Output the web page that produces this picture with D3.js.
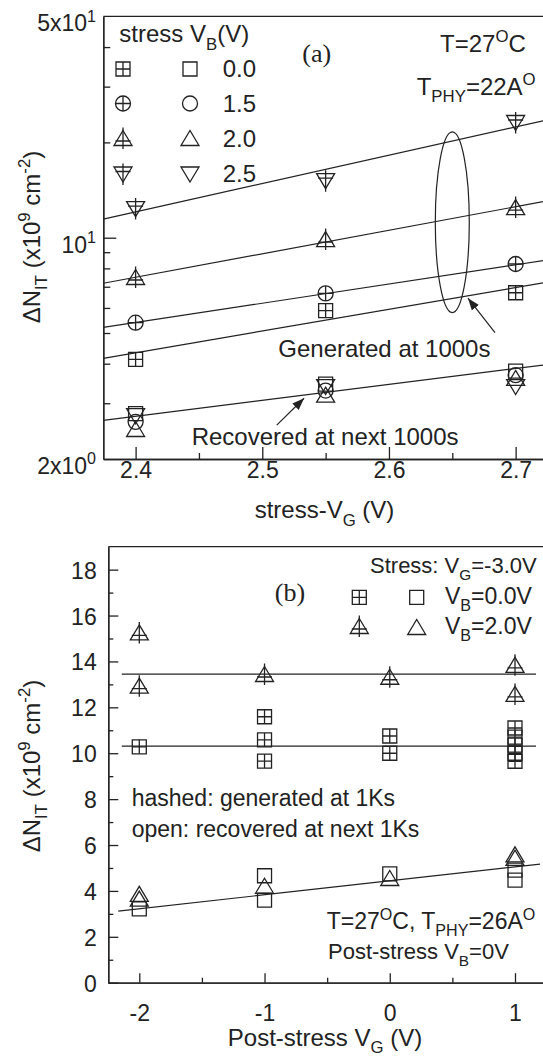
<!DOCTYPE html>
<html>
<head>
<meta charset="utf-8">
<script src="https://cdn.jsdelivr.net/npm/d3@7"></script>
<style>
  body { margin: 0; background: #fff; }
  svg text { font-family: "Liberation Sans", Arial, sans-serif; fill: #222; white-space: pre; }
  svg text.serif { font-family: "Liberation Serif", "Times New Roman", serif; }
</style>
</head>
<body>
<svg id="chart" width="543" height="1061"></svg>
<script>
// ---- panel (a): dN_IT (1e9 cm^-2) vs stress V_G, log axis ----
var stressVG = [2.4, 2.55, 2.7];
var genVB00 = [4.13, 5.88, 6.70];
var genVB15 = [5.39, 6.67, 8.26];
var genVB20 = [7.46, 9.83, 12.4];
var genVB25 = [12.4, 15.2, 23.2];
var recVB00 = [2.78, 3.45, 3.79];
var recVB15 = [2.62, 3.29, 3.68];
var recVB20 = [2.47, 3.17, 3.58];
var recVB25 = [2.75, 3.40, 3.40];
// fitted lines, end points
var fitXA = [2.3745, 2.7216];
var fitVB00 = [4.16, 7.20];
var fitVB15 = [5.21, 8.46];
var fitVB20 = [7.18, 13.0];
var fitVB25 = [11.45, 23.4];
var fitRecA = [2.65, 3.96];
var xTicksA = [2.4, 2.5, 2.6, 2.7];
var xMinorA = [2.45, 2.55, 2.65];
var yMinorA = [3, 4, 5, 6, 7, 8, 9, 20, 30, 40];
var yLabelValsA = [50, 10, 2];
var yLabelsA = ["5x10^{1}", "10^{1}", "2x10^{0}"];
var legendVB = ["0.0", "1.5", "2.0", "2.5"];

// ---- panel (b): dN_IT vs post-stress V_G ----
var postVG = [-2, -1, 0, 1];
var genB00 = [[10.28], [11.59, 10.58, 9.66], [10.75, 10.0], [11.1, 10.7, 10.35, 10.0, 9.65]];
var genB20 = [[15.22, 12.9], [13.41], [13.29], [13.81, 12.54]];
var recB00 = [[3.22], [4.66, 3.60], [4.74], [4.91, 4.47]];
var recB20 = [[3.83, 3.62], [4.18], [4.52], [5.55, 5.40]];
var fitXB = [-2.14, 1.168];
var fitGenB20 = [13.45, 13.45];
var fitGenB00 = [10.31, 10.31];
var fitRecXB = [-2.168, 1.2];
var fitRecB = [3.12, 5.17];
var xMinorB = [-1.5, -0.5, 0.5];
var yTicksB = [0, 2, 4, 6, 8, 10, 12, 14, 16, 18];
var yMinorB = [1, 3, 5, 7, 9, 11, 13, 15, 17];

var ink = "#222";
var svg = d3.select("#chart");

svg.append("defs").append("marker")
  .attr("id", "arr").attr("viewBox", "0 0 12 9")
  .attr("refX", 12).attr("refY", 4.5)
  .attr("markerWidth", 12).attr("markerHeight", 9)
  .attr("markerUnits", "userSpaceOnUse").attr("orient", "auto")
  .append("path").attr("d", "M0,0L12,4.5L0,9Z").attr("fill", ink);

var shapes = {
  square: "M-7,-7H7V7H-7Z",
  circle: "M7.5,0A7.5,7.5 0 1,1 -7.5,0A7.5,7.5 0 1,1 7.5,0Z",
  up: "M0,-8.5L9,6.5H-9Z",
  down: "M0,8.5L9,-6.5H-9Z"
};
var hatch = {
  square: "M0,-7V7M-7,0H7",
  circle: "M0,-7.5V7.5M-7.5,0H7.5",
  up: "M0,-11.5V10M-7.5,2H7.5",
  down: "M0,-10V11.5M-7.5,-2H7.5"
};

function marks(g, pts, shape, hashed) {
  var s = g.selectAll(null).data(pts).enter().append("g")
    .attr("transform", function(d) { return "translate(" + d[0] + "," + d[1] + ")"; });
  s.append("path").attr("d", shapes[shape]);
  if (hashed) s.append("path").attr("d", hatch[shape]);
}

// text with _{sub} and ^{sup} parts
function rich(x, y, str, size, opts) {
  opts = opts || {};
  var t = svg.append("text").attr("x", x).attr("y", y)
    .attr("font-size", size).attr("text-anchor", opts.anchor || "start");
  if (opts.rotate) t.attr("transform", "rotate(-90," + x + "," + y + ")");
  if (opts.cls) t.attr("class", opts.cls);
  var shift = 0;
  str.split(/(_\{[^}]*\}|\^\{[^}]*\})/).forEach(function(s) {
    if (!s) return;
    var kind = s[0] === "_" && s[1] === "{" ? "sub" : s[0] === "^" ? "sup" : "";
    var txt = kind ? s.slice(2, -1) : s;
    var want = kind === "sub" ? 0.3 * size : kind === "sup" ? -0.42 * size : 0;
    var ts = t.append("tspan").text(txt).attr("dy", want - shift);
    if (kind) ts.attr("font-size", size * 0.7);
    shift = want;
  });
  return t;
}

function styleAxis(g) {
  g.attr("color", ink).attr("font-size", 23).attr("font-family", null);
  g.selectAll("path, line").attr("stroke-width", 1.3);
}

// =============== panel (a) ===============
var xA = d3.scaleLinear().domain([2.3745, 2.7216]).range([103.3, 543]);
var yA = d3.scaleLog().domain([2, 50]).range([459, 16.4]);

svg.append("line").attr("x1", xA.range()[0]).attr("x2", 543)
  .attr("y1", yA(50)).attr("y2", yA(50)).attr("stroke", ink).attr("stroke-width", 1.3);

svg.append("g").attr("transform", "translate(0," + yA(2) + ")")
  .call(d3.axisBottom(xA).tickValues(xTicksA).tickSize(-12).tickSizeOuter(0)
    .tickPadding(3).tickFormat(d3.format(".1f")))
  .call(styleAxis);
svg.append("g").attr("transform", "translate(0," + yA(2) + ")")
  .call(d3.axisBottom(xA).tickValues(xMinorA).tickSize(-6).tickSizeOuter(0).tickFormat(""))
  .call(styleAxis);
svg.append("g").attr("transform", "translate(" + xA(2.3745) + ",0)")
  .call(d3.axisLeft(yA).tickValues([10]).tickSize(-13).tickSizeOuter(0).tickFormat(""))
  .call(styleAxis);
svg.append("g").attr("transform", "translate(" + xA(2.3745) + ",0)")
  .call(d3.axisLeft(yA).tickValues(yMinorA).tickSize(-7).tickSizeOuter(0).tickFormat(""))
  .call(styleAxis);

yLabelValsA.forEach(function(v, i) {
  rich(96, yA(v) + 15, yLabelsA[i], 23, { anchor: "end" });
});

var lineA = d3.line().x(function(d) { return xA(d[0]); }).y(function(d) { return yA(d[1]); });
var fitsA = [fitVB00, fitVB15, fitVB20, fitVB25, fitRecA];
svg.append("g").attr("fill", "none").attr("stroke", ink).attr("stroke-width", 1.2)
  .selectAll("path").data(fitsA).enter().append("path")
  .attr("d", function(f) { return lineA(d3.zip(fitXA, f)); });

var mA = svg.append("g").attr("fill", "none").attr("stroke", ink).attr("stroke-width", 1.3);
function ptsA(vals) {
  return d3.zip(stressVG, vals).map(function(d) { return [xA(d[0]), yA(d[1])]; });
}
marks(mA, ptsA(recVB00), "square", false);
marks(mA, ptsA(recVB15), "circle", false);
marks(mA, ptsA(recVB20), "up", false);
marks(mA, ptsA(recVB25), "down", false);
marks(mA, ptsA(genVB00), "square", true);
marks(mA, ptsA(genVB15), "circle", true);
marks(mA, ptsA(genVB20), "up", true);
marks(mA, ptsA(genVB25), "down", true);

// legend (a)
var legShapes = ["square", "circle", "up", "down"];
var legRowY = [69, 103.5, 139, 173.5];
rich(119.3, 42.3, "stress V_{B}(V)", 24);
legShapes.forEach(function(s, i) {
  marks(mA, [[123, legRowY[i]]], s, true);
  marks(mA, [[190, legRowY[i]]], s, false);
  rich(222.7, legRowY[i] + 8, legendVB[i], 24);
});

rich(316.7, 62, "(a)", 26, { anchor: "middle", cls: "serif" });
rich(440, 51.7, "T=27^{O}C", 24);
rich(416.7, 95, "T_{PHY}=22A^{O}", 24);

// ellipse around generated lines and arrows
var ellTop = yA(21.6), ellBot = yA(5.8);
svg.append("ellipse").attr("cx", xA(2.65)).attr("cy", (ellTop + ellBot) / 2)
  .attr("rx", 17).attr("ry", (ellBot - ellTop) / 2)
  .attr("fill", "none").attr("stroke", ink).attr("stroke-width", 1.2);
svg.append("line").attr("x1", xA(2.6837)).attr("y1", yA(5.01))
  .attr("x2", xA(2.6624)).attr("y2", yA(6.44))
  .attr("stroke", ink).attr("stroke-width", 1.2).attr("marker-end", "url(#arr)");
svg.append("line").attr("x1", xA(2.5114)).attr("y1", yA(2.56))
  .attr("x2", xA(2.533)).attr("y2", yA(3.11))
  .attr("stroke", ink).attr("stroke-width", 1.2).attr("marker-end", "url(#arr)");
rich(278.3, 357.3, "Generated at 1000s", 24);
rich(191.7, 445, "Recovered at next 1000s", 24);

rich(324.5, 518.3, "stress-V_{G} (V)", 24, { anchor: "middle" });
rich(40, 237, "\u0394N_{IT} (x10^{9} cm^{-2})", 24, { anchor: "middle", rotate: true });

// =============== panel (b) ===============
var xB = d3.scaleLinear().domain([-2.2475, 1.2236]).range([108.3, 543]);
var yB = d3.scaleLinear().domain([0, 19]).range([982.7, 546.7]);

svg.append("line").attr("x1", xB.range()[0]).attr("x2", 543)
  .attr("y1", yB(19)).attr("y2", yB(19)).attr("stroke", ink).attr("stroke-width", 1.3);

svg.append("g").attr("transform", "translate(0," + yB(0) + ")")
  .call(d3.axisBottom(xB).tickValues(postVG).tickSize(-9.5).tickSizeOuter(0)
    .tickPadding(22).tickFormat(function(d) { return String(d); }))
  .call(styleAxis);
svg.append("g").attr("transform", "translate(0," + yB(0) + ")")
  .call(d3.axisBottom(xB).tickValues(xMinorB).tickSize(-5).tickSizeOuter(0).tickFormat(""))
  .call(styleAxis);
svg.append("g").attr("transform", "translate(" + xB(-2.2475) + ",0)")
  .call(d3.axisLeft(yB).tickValues(yTicksB).tickSize(-10).tickSizeOuter(0)
    .tickPadding(11.6).tickFormat(function(d) { return String(d); }))
  .call(styleAxis)
  .call(function(g) { g.selectAll("text").attr("dy", "0.37em"); });
svg.append("g").attr("transform", "translate(" + xB(-2.2475) + ",0)")
  .call(d3.axisLeft(yB).tickValues(yMinorB).tickSize(-5).tickSizeOuter(0).tickFormat(""))
  .call(styleAxis);

var lineB = d3.line().x(function(d) { return xB(d[0]); }).y(function(d) { return yB(d[1]); });
var gl = svg.append("g").attr("fill", "none").attr("stroke", ink).attr("stroke-width", 1.2);
gl.append("path").attr("d", lineB(d3.zip(fitXB, fitGenB20)));
gl.append("path").attr("d", lineB(d3.zip(fitXB, fitGenB00)));
gl.append("path").attr("d", lineB(d3.zip(fitRecXB, fitRecB)));

function ptsB(groups) {
  var out = [];
  postVG.forEach(function(x, i) {
    groups[i].forEach(function(v) { out.push([xB(x), yB(v)]); });
  });
  return out;
}
var mB = svg.append("g").attr("fill", "none").attr("stroke", ink).attr("stroke-width", 1.3);
marks(mB, ptsB(genB00), "square", true);
marks(mB, ptsB(genB20), "up", true);
marks(mB, ptsB(recB00), "square", false);
marks(mB, ptsB(recB20), "up", false);

// legend (b)
rich(536.7, 573, "Stress: V_{G}=-3.0V", 22, { anchor: "end" });
rich(290, 601, "(b)", 26, { anchor: "middle", cls: "serif" });
marks(mB, [[359.3, 597.3]], "square", true);
marks(mB, [[416.7, 597.3]], "square", false);
rich(445, 604, "V_{B}=0.0V", 23);
marks(mB, [[359.3, 627]], "up", true);
marks(mB, [[416.7, 628]], "up", false);
rich(445, 634, "V_{B}=2.0V", 23);

rich(131.7, 806, "hashed: generated at 1Ks", 23);
rich(131.7, 836.7, "open: recovered at next 1Ks", 23);
rich(326.7, 929.3, "T=27^{O}C, T_{PHY}=26A^{O}", 23);
rich(328, 959.3, "Post-stress V_{B}=0V", 22);

rich(325, 1046, "Post-stress V_{G} (V)", 24, { anchor: "middle" });
rich(40, 766, "\u0394N_{IT} (x10^{9} cm^{-2})", 24, { anchor: "middle", rotate: true });
</script>
</body>
</html>
